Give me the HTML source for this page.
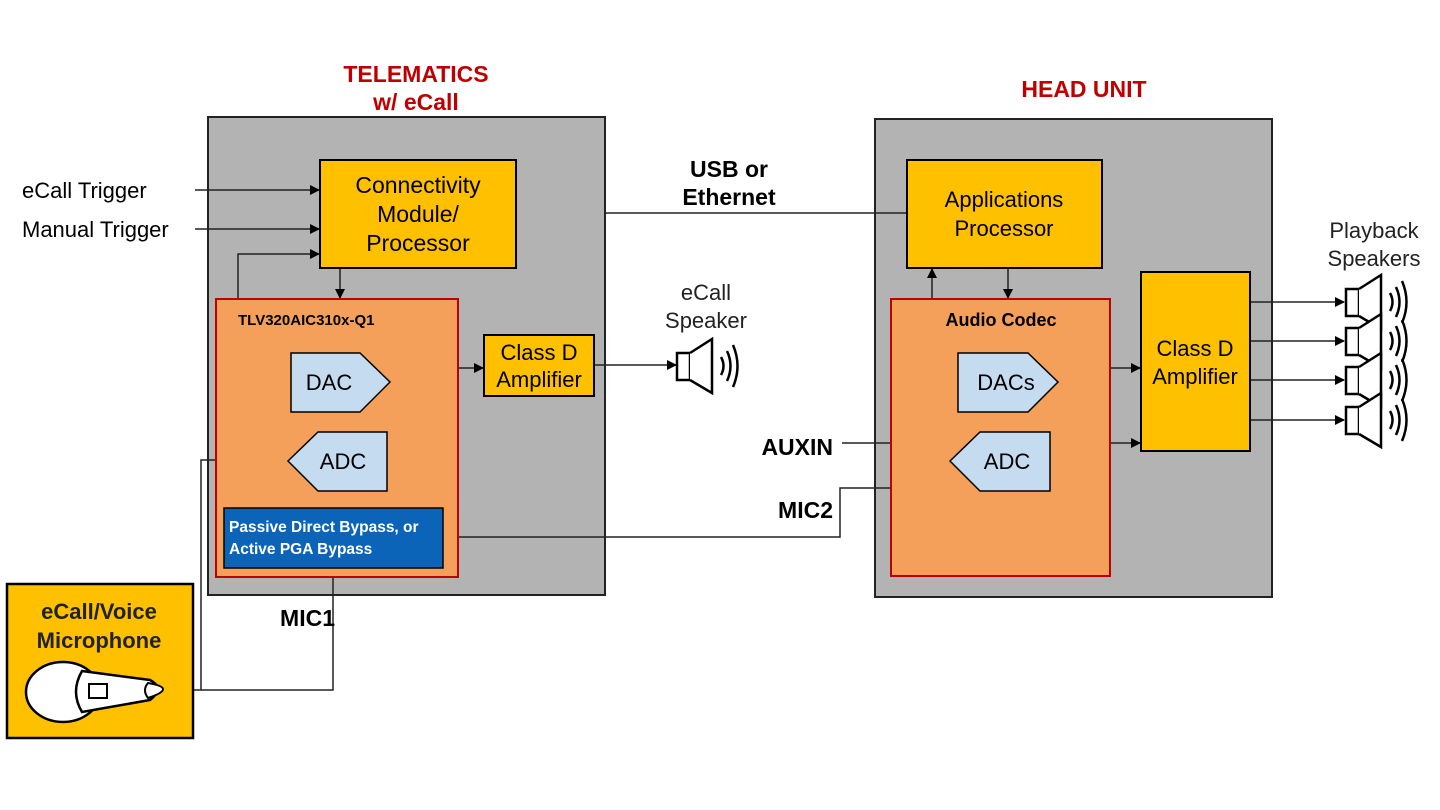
<!DOCTYPE html>
<html><head><meta charset="utf-8"><style>
html,body{margin:0;padding:0;background:#fff;}
svg{display:block;font-family:"Liberation Sans",Arial,sans-serif;}
</style></head><body>
<svg width="1440" height="810" viewBox="0 0 1440 810" xmlns="http://www.w3.org/2000/svg">
<defs>
<marker id="a" markerWidth="10" markerHeight="10" refX="9" refY="5" orient="auto" markerUnits="userSpaceOnUse"><path d="M0,0 L10,5 L0,10 z" fill="#000"/></marker>
<g id="spk">
<rect x="0" y="-13" width="13" height="27" fill="#fff" stroke="#000" stroke-width="2.5"/>
<path d="M13,-13 L35,-27 L35,27 L13,14" fill="#fff" stroke="#000" stroke-width="2.5"/>
<path d="M44,-9 Q49,0 44,9 M50,-15 Q57,0 50,15 M56,-21 Q65,0 56,21" fill="none" stroke="#000" stroke-width="2.5"/>
</g>
</defs>
<rect x="208" y="117" width="397" height="478" fill="#b3b3b3" stroke="#222" stroke-width="2"/>
<rect x="875" y="119" width="397" height="478" fill="#b3b3b3" stroke="#222" stroke-width="2"/>
<text x="416" y="82" fill="#c00000" font-size="23" font-weight="bold" text-anchor="middle">TELEMATICS</text>
<text x="416" y="110" fill="#c00000" font-size="23" font-weight="bold" text-anchor="middle">w/ eCall</text>
<text x="1084" y="97" fill="#c00000" font-size="23" font-weight="bold" text-anchor="middle">HEAD UNIT</text>

<g stroke="#222" stroke-width="1.5" fill="none">
<line x1="195" y1="190" x2="319" y2="190" marker-end="url(#a)"/>
<line x1="195" y1="229" x2="319" y2="229" marker-end="url(#a)"/>
<polyline points="238,299 238,254 319,254" marker-end="url(#a)"/>
<line x1="340" y1="268" x2="340" y2="298" marker-end="url(#a)"/>
<line x1="458" y1="368" x2="483" y2="368" marker-end="url(#a)"/>
<line x1="594" y1="365" x2="676" y2="365" marker-end="url(#a)"/>
<line x1="605" y1="213" x2="907" y2="213"/>
<line x1="932" y1="299" x2="932" y2="269" marker-end="url(#a)"/>
<line x1="1008" y1="268" x2="1008" y2="298" marker-end="url(#a)"/>
<line x1="1110" y1="368" x2="1140" y2="368" marker-end="url(#a)"/>
<line x1="1110" y1="443" x2="1140" y2="443" marker-end="url(#a)"/>
<line x1="842" y1="443" x2="891" y2="443"/>
<polyline points="443,537 840,537 840,488 891,488"/>
<polyline points="287,460 201,460 201,690 175,690"/>
<polyline points="333,568 333,690 201,690"/>
<line x1="1250" y1="302" x2="1344" y2="302" marker-end="url(#a)"/>
<line x1="1250" y1="341" x2="1344" y2="341" marker-end="url(#a)"/>
<line x1="1250" y1="380" x2="1344" y2="380" marker-end="url(#a)"/>
<line x1="1250" y1="420" x2="1344" y2="420" marker-end="url(#a)"/>
</g>

<rect x="320" y="160" width="196" height="108" fill="#ffc000" stroke="#000" stroke-width="2"/>
<text font-size="23" text-anchor="middle" fill="#000"><tspan x="418" y="193">Connectivity</tspan><tspan x="418" y="222">Module/</tspan><tspan x="418" y="251">Processor</tspan></text>
<rect x="216" y="299" width="242" height="278" fill="#f5a05a" stroke="#c00000" stroke-width="2"/>
<text x="238" y="325" font-size="15" font-weight="bold">TLV320AIC310x-Q1</text>
<path d="M291,353 L360,353 L390,382 L360,412 L291,412 z" fill="#c5dbf0" stroke="#000" stroke-width="1.5"/>
<text x="329" y="390" font-size="22" text-anchor="middle">DAC</text>
<path d="M387,432 L318,432 L288,461 L318,491 L387,491 z" fill="#c5dbf0" stroke="#000" stroke-width="1.5"/>
<text x="343" y="469" font-size="22" text-anchor="middle">ADC</text>
<rect x="224" y="508" width="219" height="60" fill="#0b64b8" stroke="#000" stroke-width="1.5"/>
<text font-size="15.5" font-weight="bold" fill="#fff"><tspan x="229" y="532">Passive Direct Bypass, or</tspan><tspan x="229" y="554">Active PGA Bypass</tspan></text>
<rect x="484" y="335" width="110" height="61" fill="#ffc000" stroke="#000" stroke-width="2"/>
<text font-size="22" text-anchor="middle"><tspan x="539" y="360">Class D</tspan><tspan x="539" y="387">Amplifier</tspan></text>

<use href="#spk" x="677" y="366"/>
<text font-size="22" text-anchor="middle" fill="#222"><tspan x="706" y="300">eCall</tspan><tspan x="706" y="328">Speaker</tspan></text>

<text x="22" y="198" font-size="22">eCall Trigger</text>
<text x="22" y="237" font-size="22">Manual Trigger</text>
<text x="729" y="177" font-size="23" font-weight="bold" text-anchor="middle">USB or</text>
<text x="729" y="205" font-size="23" font-weight="bold" text-anchor="middle">Ethernet</text>
<text x="833" y="455" font-size="23" font-weight="bold" text-anchor="end">AUXIN</text>
<text x="833" y="518" font-size="23" font-weight="bold" text-anchor="end">MIC2</text>
<text x="335" y="626" font-size="23" font-weight="bold" text-anchor="end">MIC1</text>

<rect x="907" y="160" width="195" height="108" fill="#ffc000" stroke="#000" stroke-width="2"/>
<text font-size="22" text-anchor="middle"><tspan x="1004" y="207">Applications</tspan><tspan x="1004" y="236">Processor</tspan></text>
<rect x="891" y="299" width="219" height="277" fill="#f5a05a" stroke="#c00000" stroke-width="2"/>
<text x="1001" y="326" font-size="18" font-weight="bold" text-anchor="middle">Audio Codec</text>
<path d="M958,353 L1028,353 L1058,382 L1028,412 L958,412 z" fill="#c5dbf0" stroke="#000" stroke-width="1.5"/>
<text x="1006" y="390" font-size="22" text-anchor="middle">DACs</text>
<path d="M1050,432 L980,432 L950,461 L980,491 L1050,491 z" fill="#c5dbf0" stroke="#000" stroke-width="1.5"/>
<text x="1007" y="469" font-size="22" text-anchor="middle">ADC</text>
<rect x="1141" y="272" width="109" height="179" fill="#ffc000" stroke="#000" stroke-width="2"/>
<text font-size="22" text-anchor="middle"><tspan x="1195" y="356">Class D</tspan><tspan x="1195" y="384">Amplifier</tspan></text>

<use href="#spk" x="1346" y="302"/>
<use href="#spk" x="1346" y="341"/>
<use href="#spk" x="1346" y="380"/>
<use href="#spk" x="1346" y="420"/>
<text font-size="22" text-anchor="middle" fill="#222"><tspan x="1374" y="238">Playback</tspan><tspan x="1374" y="266">Speakers</tspan></text>

<rect x="7" y="584" width="186" height="154" fill="#ffc000" stroke="#000" stroke-width="2.5"/>
<text font-size="22" font-weight="bold" text-anchor="middle" fill="#222"><tspan x="99" y="619">eCall/Voice</tspan><tspan x="99" y="648">Microphone</tspan></text>
<ellipse cx="63" cy="692" rx="37" ry="30" fill="#fff" stroke="#000" stroke-width="2.5"/>
<path d="M82,671 L150,680 Q165,688 150,700 L82,712 Q70,692 82,671 z" fill="#fff" stroke="#000" stroke-width="2.5"/>
<path d="M148,683 Q178,688 148,698 Q142,690 148,683 z" fill="#fff" stroke="#000" stroke-width="2"/>
<rect x="89" y="684" width="18" height="14" fill="#fff" stroke="#000" stroke-width="2"/>
</svg>
</body></html>
